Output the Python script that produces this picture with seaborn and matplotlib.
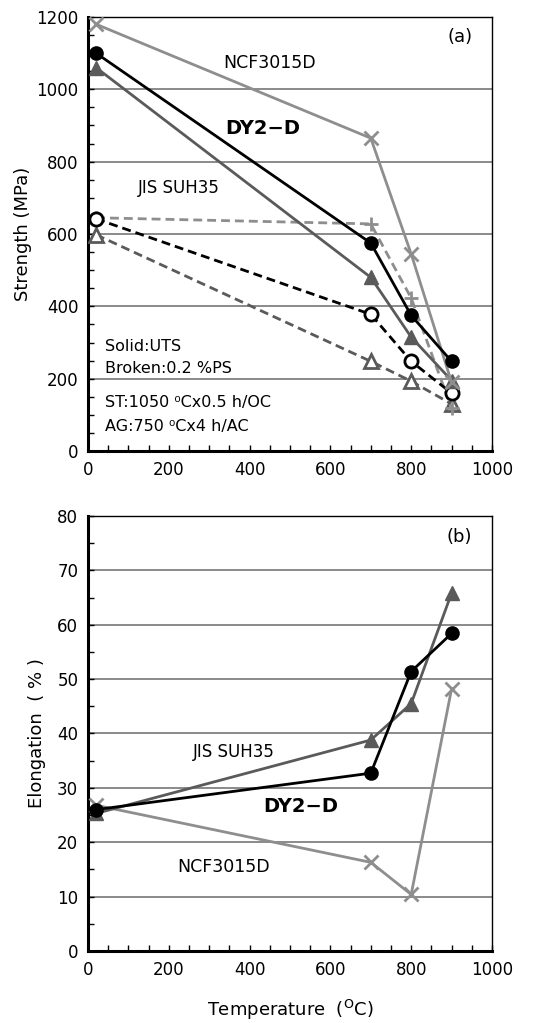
import matplotlib
matplotlib.use("Agg")
import matplotlib.pyplot as plt
from matplotlib.ticker import MultipleLocator
import numpy as np
import pandas as pd
import seaborn as sns

# Test temperatures (degC)
temps = [20, 700, 800, 900]

# Tensile strength, MPa (solid = UTS, broken = 0.2 % proof stress)
dy2d_uts = [1100, 575, 375, 248]
suh35_uts = [1060, 480, 315, 195]
ncf_uts = [1180, 865, 545, 190]
dy2d_ps = [642, 378, 248, 160]
suh35_ps = [598, 248, 193, 130]
ncf_ps = [645, 628, 423, 118]

# Elongation, %
dy2d_el = [26.0, 32.7, 51.4, 58.4]
suh35_el = [25.3, 38.8, 45.5, 65.8]
ncf_el = [26.8, 16.3, 10.4, 48.2]

BLACK = "#000000"
DARK = "#5a5a5a"
LIGHT = "#8e8e8e"
DASH = (0, (3.2, 1.8))

sns.set_theme(style="white")
plt.rcParams["font.family"] = ["DejaVu Sans"]
plt.rcParams["mathtext.fontset"] = "dejavusans"
plt.rcParams["text.color"] = "black"
plt.rcParams["axes.labelcolor"] = "black"
plt.rcParams["xtick.color"] = "black"
plt.rcParams["ytick.color"] = "black"

fig = plt.figure(figsize=(5.5, 10.23), dpi=100)
ax1 = fig.add_axes([0.16, 0.5591, 0.7345, 0.4243])
ax2 = fig.add_axes([0.16, 0.0704, 0.7345, 0.4252])


def draw(ax, y, color, marker, ls="-", filled=True, ms=9, z=3):
    df = pd.DataFrame({"T": temps, "v": y})
    sns.lineplot(data=df, x="T", y="v", ax=ax, color=color, linestyle=ls,
                 linewidth=2.0, marker=marker, markersize=ms,
                 markeredgecolor=color,
                 markerfacecolor=(color if filled else "white"),
                 markeredgewidth=(2.0 if not filled or marker in ("x", "+") else 1.0),
                 estimator=None, sort=False, legend=False, zorder=z)


# (a) strength
draw(ax1, suh35_ps, DARK, "^", DASH, filled=False, ms=9.5)
draw(ax1, ncf_ps, LIGHT, "+", DASH, ms=10)
draw(ax1, dy2d_ps, BLACK, "o", DASH, filled=False, ms=9.5)
draw(ax1, suh35_uts, DARK, "^", ms=9.5)
draw(ax1, ncf_uts, LIGHT, "x", ms=10)
draw(ax1, dy2d_uts, BLACK, "o", ms=9.5, z=4)

# (b) elongation
draw(ax2, ncf_el, LIGHT, "x", ms=10)
draw(ax2, suh35_el, DARK, "^", ms=9.5)
draw(ax2, dy2d_el, BLACK, "o", ms=9.5, z=4)

for ax, ymax, major, minor in ((ax1, 1200, 200, 50), (ax2, 80, 10, 5)):
    ax.set_xlim(0, 1000)
    ax.set_ylim(0, ymax)
    ax.xaxis.set_major_locator(MultipleLocator(200))
    ax.xaxis.set_minor_locator(MultipleLocator(50))
    ax.yaxis.set_major_locator(MultipleLocator(major))
    ax.yaxis.set_minor_locator(MultipleLocator(minor))
    ax.grid(False)
    ax.yaxis.grid(True, which="major", color="#8a8a8a", linewidth=1.4, zorder=1)
    ax.set_axisbelow(True)
    ax.tick_params(axis="both", which="both", direction="in", length=4,
                   width=1.0, color="black", labelsize=12, labelcolor="black")
    ax.tick_params(axis="x", which="both", top=False, bottom=True, pad=7)
    ax.tick_params(axis="y", which="both", left=True, right=False, pad=7)
    for side in ("left", "bottom"):
        ax.spines[side].set_linewidth(2.2)
        ax.spines[side].set_color("black")
    for side in ("top", "right"):
        ax.spines[side].set_linewidth(1.0)
        ax.spines[side].set_color("black")
        ax.spines[side].set_visible(True)
    ax.set_xlabel("")
    ax.set_facecolor("white")

ax1.set_ylabel("Strength (MPa)", fontsize=13, labelpad=3)
ax2.set_ylabel("Elongation  ( % )", fontsize=13, labelpad=8)
ax2.set_xlabel(r"Temperature  ($^{\mathrm{O}}$C)", fontsize=13, labelpad=14)

# panel (a) annotations
ax1.text(920, 1144, "(a)", fontsize=13, ha="center", va="center")
ax1.text(450, 1073, "NCF3015D", fontsize=12.5, ha="center", va="center")
ax1.text(432, 893, "DY2\u2212D", fontsize=14, fontweight="bold", ha="center", va="center")
ax1.text(226, 727, "JIS SUH35", fontsize=12, ha="center", va="center")
notes = [("Solid:UTS", 290), ("Broken:0.2 %PS", 227),
         ("ST:1050 \u2070Cx0.5 h/OC", 133), ("AG:750 \u2070Cx4 h/AC", 69)]
for txt, yv in notes:
    ax1.text(42, yv, txt, fontsize=11.5, ha="left", va="center")

# panel (b) annotations
ax2.text(920, 76.1, "(b)", fontsize=13, ha="center", va="center")
ax2.text(360, 36.6, "JIS SUH35", fontsize=12, ha="center", va="center")
ax2.text(527, 26.5, "DY2\u2212D", fontsize=14, fontweight="bold", ha="center", va="center")
ax2.text(335, 15.4, "NCF3015D", fontsize=12.5, ha="center", va="center")

fig.savefig("out.png", dpi=100, facecolor="white")
